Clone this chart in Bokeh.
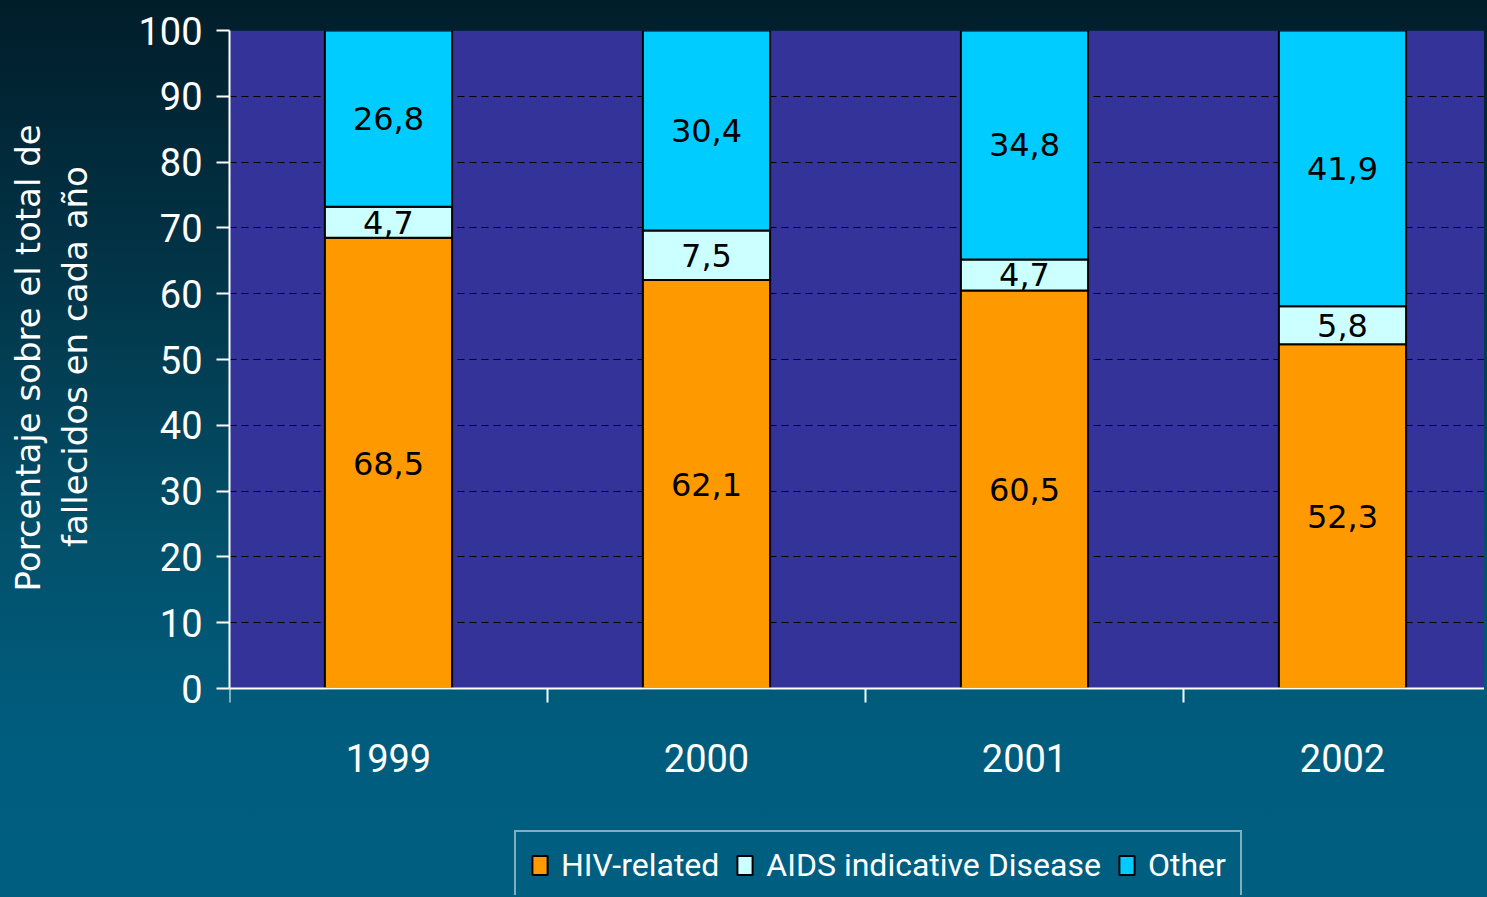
from bokeh.plotting import figure
from bokeh.models import (ColumnDataSource, Range1d, FixedTicker, GlobalInlineStyleSheet,
                          Legend, LegendItem, BoxAnnotation, Title)
from bokeh.core.properties import value
from bokeh.embed import file_html
from bokeh.resources import INLINE

# ---- data ----
years = ["1999", "2000", "2001", "2002"]
hiv_related = [68.5, 62.1, 60.5, 52.3]
aids_indicative = [4.7, 7.5, 4.7, 5.8]
other = [26.8, 30.4, 34.8, 41.9]
series_names = ["HIV-related", "AIDS indicative Disease", "Other"]
series_colors = ["#FF9900", "#CCFFFF", "#00CCFF"]
y_ticks = [0, 10, 20, 30, 40, 50, 60, 70, 80, 90, 100]
y_title_lines = ["Porcentaje sobre el total de", "fallecidos en cada año"]

x_pos = [i + 1 for i in range(len(years))]

src = ColumnDataSource(dict(x=x_pos, hiv=hiv_related, aids=aids_indicative, other=other))

NARROW = "Roboto"
WIDE = "DejaVu Sans"

W, H = 1484, 895
LEFT, TOP = 229, 30
PX_PER_PCT = 658 / 100
PX_PER_CAT = 318

p = figure(width=W, height=H, output_backend="svg", toolbar_location=None,
           x_range=Range1d(0.5, 0.5 + (W - LEFT) / PX_PER_CAT),
           y_range=Range1d(100 - (H - TOP) / PX_PER_PCT, 100),
           min_border_left=LEFT, min_border_right=0, min_border_top=TOP, min_border_bottom=0)
p.stylesheets = [GlobalInlineStyleSheet(css=(
    "html { min-height: 100%; background: linear-gradient(to bottom, #011d2a 0%, #023447 30%, "
    "#03506a 60%, #005c7d 80%, #005f81 100%) no-repeat; background-attachment: fixed; }"
    "body { background: transparent; }"))]
p.border_fill_color = None
p.background_fill_color = None
p.outline_line_color = None

# plot area (0..100 %)
p.add_layout(BoxAnnotation(bottom=0, top=100, fill_color="#333399", fill_alpha=1,
                           line_color=None, level="image"))

renderers = p.vbar_stack(["hiv", "aids", "other"], x="x", width=0.4, source=src,
                         color=series_colors, line_color="black", line_width=2)

# segment labels
lab_x, lab_y, lab_t = [], [], []
for i in range(len(years)):
    base = 0.0
    for arr in (hiv_related, aids_indicative, other):
        lab_x.append(x_pos[i])
        lab_y.append(base + arr[i] / 2)
        lab_t.append(f"{arr[i]:.1f}".replace(".", ","))
        base += arr[i]
lsrc = ColumnDataSource(dict(x=lab_x, y=lab_y, t=lab_t))
p.text(x="x", y="y", text="t", source=lsrc, text_align="center", text_baseline="middle",
       text_font=value(WIDE), text_font_size="32px", text_color="black")

# grid
p.xgrid.grid_line_color = None
p.ygrid.ticker = FixedTicker(ticks=y_ticks)
p.ygrid.grid_line_color = "black"
p.ygrid.grid_line_dash = "7 5"
p.ygrid.grid_line_width = 1

# y axis
ya = p.yaxis[0]
ya.ticker = FixedTicker(ticks=y_ticks)
ya.bounds = (0, 100)
ya.axis_line_color = "white"
ya.axis_line_width = 2
ya.major_tick_line_color = "white"
ya.major_tick_line_width = 2
ya.major_tick_out = 13
ya.major_tick_in = 0
ya.minor_tick_line_color = None
ya.major_label_text_color = "white"
ya.major_label_text_font = NARROW
ya.major_label_text_font_size = "38px"
ya.major_label_standoff = 14

# y title as two lines, centred on the 0..100 span
Y_TITLE_PX = 34
Y_MID = 356
em = {"P": .603, "o": .612, "r": .411, "c": .550, "e": .615, "n": .634, "t": .392, "a": .613,
      "j": .278, " ": .318, "s": .521, "b": .635, "l": .278, "d": .635, "f": .352, "i": .278,
      "ñ": .634}
# inner line gets an empty trailing line so it keeps its distance from the tick labels
for line, suffix, standoff in zip(reversed(y_title_lines), ("\n", ""), (2, 8)):
    length = sum(em.get(ch, .6) for ch in line) * Y_TITLE_PX
    t = Title(text=line + suffix, align="left", offset=H - (Y_MID + length / 2),
              standoff=standoff, text_color="white", text_font=WIDE,
              text_font_size=f"{Y_TITLE_PX}px", text_font_style="normal")
    p.add_layout(t, "left")

# x axis (fixed at 0 %)
xa = p.xaxis[0]
xa.fixed_location = 0
xa.ticker = FixedTicker(ticks=x_pos, minor_ticks=[v - 0.5 for v in x_pos])
xa.major_label_overrides = {v: y for v, y in zip(x_pos, years)}
xa.axis_line_color = "white"
xa.axis_line_width = 2
xa.major_tick_line_color = None
xa.major_tick_out = 0
xa.major_tick_in = 0
xa.minor_tick_line_color = "white"
xa.minor_tick_line_width = 2
xa.minor_tick_out = 14
xa.minor_tick_in = 0
xa.major_label_text_color = "white"
xa.major_label_text_font = NARROW
xa.major_label_text_font_size = "38px"
xa.major_label_standoff = 41

# legend
lg = Legend(items=[LegendItem(label=n, renderers=[r]) for n, r in zip(series_names, renderers)])
lg.orientation = "horizontal"
lg.location = (285, -5)
lg.background_fill_alpha = 0
lg.border_line_color = "white"
lg.border_line_width = 2
lg.label_text_color = "white"
lg.label_text_font = NARROW
lg.label_text_font_size = "32px"
lg.glyph_width = 19
lg.glyph_height = 24
lg.label_standoff = 12
lg.spacing = 16
lg.padding = 14
lg.margin = 0
p.add_layout(lg, "center")

html = file_html(p, INLINE)
open("out.html", "w").write(html)
